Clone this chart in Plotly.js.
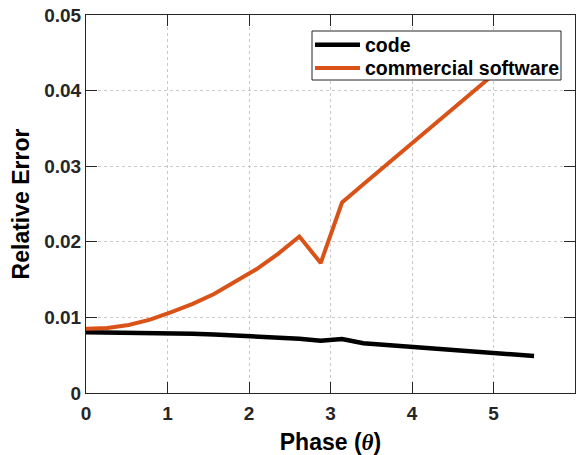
<!DOCTYPE html>
<html>
<head>
<meta charset="utf-8">
<script src="https://cdn.plot.ly/plotly-3.0.1.min.js"></script>
<style>html,body{margin:0;padding:0;background:#fff;}#chart{width:580px;height:455px;}</style>
</head>
<body>
<div id="chart"></div>
<script>
// phase samples: k * pi/12, k = 0..21
const stepIndex = [0,1,2,3,4,5,6,7,8,9,10,11,12,13,14,15,16,17,18,19,20,21];
const phase = stepIndex.map(k => k * Math.PI / 12);

const codeError = [0.00803,0.00802,0.00800,0.00796,0.00790,0.00783,0.00775,0.00762,0.00747,0.00733,0.00718,0.00692,0.00714,0.00657,0.00636,0.00615,0.00594,0.00573,0.00552,0.00531,0.00510,0.00489];
const commercialError = [0.0085,0.0086,0.0090,0.0097,0.0107,0.0118,0.0131,0.0147,0.0164,0.0184,0.0207,0.0172,0.0252,0.0276,0.0300,0.0324,0.0348,0.0371,0.0395,0.0419,0.0442,0.0466];

const seriesNames = ["code", "commercial software"];
const seriesColors = ["#000000", "#D95319"];
const xTicks = [0,1,2,3,4,5,6];
const yTicks = [0,0.01,0.02,0.03,0.04,0.05];
const yTickText = ["0","0.01","0.02","0.03","0.04","0.05"];

const FONT = "'Liberation Sans', Arial, Helvetica, sans-serif";
const W = 580, H = 455;
const M = {l: 86, r: 5, t: 15, b: 62};
const PW = W - M.l - M.r, PH = H - M.t - M.b;
const px = x => (x - M.l) / PW;      // page pixel -> paper x
const py = y => (H - M.b - y) / PH;  // page pixel -> paper y

const traces = [
  {x: phase, y: codeError, name: seriesNames[0], mode: "lines", type: "scatter",
   line: {color: seriesColors[0], width: 4.5}},
  {x: phase, y: commercialError, name: seriesNames[1], mode: "lines", type: "scatter",
   line: {color: seriesColors[1], width: 4}}
];

const axisCommon = {
  showline: true, linecolor: "#262626", linewidth: 1, mirror: "ticks",
  ticks: "inside", ticklen: 11, tickwidth: 1, tickcolor: "#262626",
  showgrid: true, gridcolor: "#c8c8c8", griddash: "dot", gridwidth: 1,
  zeroline: false,
  tickfont: {family: FONT, size: 19, color: "#262626", weight: "bold"}
};

// legend box drawn as layout decoration (box, line samples, labels)
const legendBox = {x0: 312, x1: 561, y0: 31, y1: 80};
const legendRows = [44.7, 68];
const shapes = [
  {type: "rect", xref: "paper", yref: "paper", layer: "above",
   x0: px(legendBox.x0), x1: px(legendBox.x1), y0: py(legendBox.y1), y1: py(legendBox.y0),
   fillcolor: "#ffffff", line: {color: "#262626", width: 1}}
];
const annotations = [];
seriesNames.forEach((name, i) => {
  shapes.push({type: "line", xref: "paper", yref: "paper", layer: "above",
    x0: px(315), x1: px(360), y0: py(legendRows[i]), y1: py(legendRows[i]),
    line: {color: seriesColors[i], width: i === 0 ? 4.5 : 4}});
  annotations.push({xref: "paper", yref: "paper", x: px(363), y: py(legendRows[i]),
    xanchor: "left", yanchor: "middle", showarrow: false, text: name,
    font: {family: FONT, size: 19.5, color: "#000", weight: "bold"}});
});

const layout = {
  width: W, height: H,
  margin: M,
  paper_bgcolor: "#ffffff", plot_bgcolor: "#ffffff",
  showlegend: false,
  xaxis: Object.assign({}, axisCommon, {
    range: [0, 6], tickvals: xTicks, ticktext: xTicks.map(String), ticklabelstandoff: 3,
    title: {text: "Phase (<span style=\"font-family:'Liberation Serif'\"><i>θ</i></span>)", font: {family: FONT, size: 23, color: "#000", weight: "bold"}, standoff: 13}
  }),
  yaxis: Object.assign({}, axisCommon, {
    range: [0, 0.05], tickvals: yTicks, ticktext: yTickText,
    title: {text: "Relative Error", font: {family: FONT, size: 23, color: "#000", weight: "bold"}, standoff: 8}
  }),
  shapes: shapes,
  annotations: annotations
};

Plotly.newPlot("chart", traces, layout, {staticPlot: true, displayModeBar: false});
</script>
</body>
</html>
